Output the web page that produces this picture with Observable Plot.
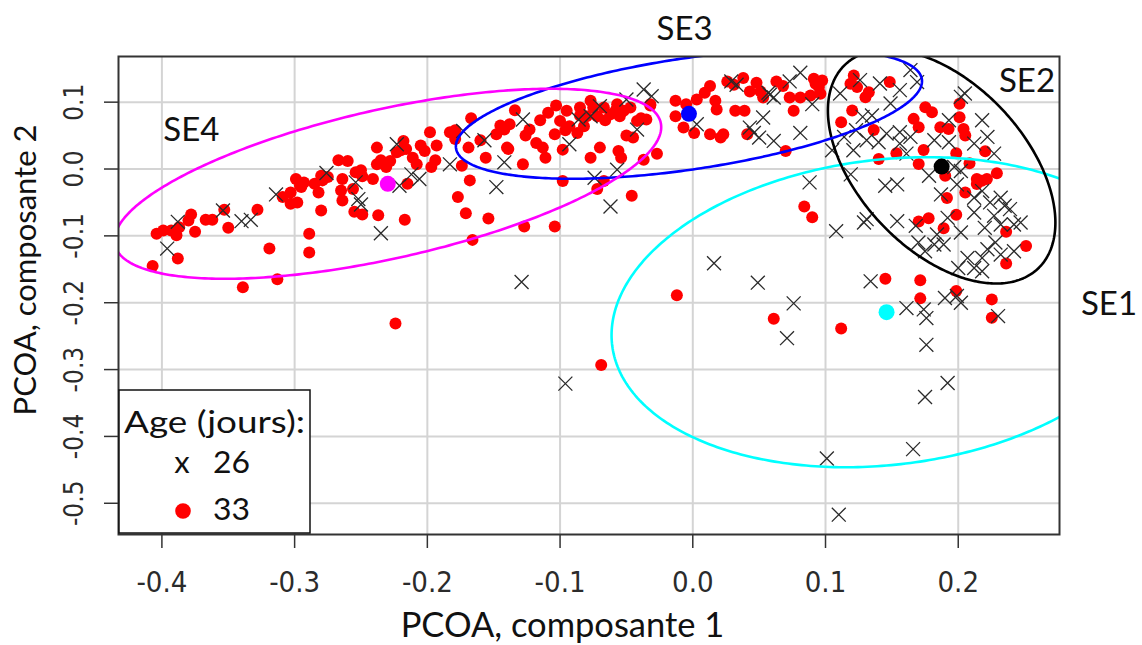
<!DOCTYPE html>
<html><head><meta charset="utf-8">
<script src="https://cdn.jsdelivr.net/npm/d3@7"></script>
<script src="https://cdn.jsdelivr.net/npm/@observablehq/plot@0.6"></script>
<style>
html,body{margin:0;padding:0;background:#fff;}
#chart{width:1142px;height:645px;}
</style></head><body><div id="chart"></div>
<script>
// Age 26 days (x marks)
const age26 = [
[-0.396,-0.119],[-0.388,-0.079],[-0.354,-0.062],[-0.340,-0.078],[-0.333,-0.076],[-0.314,-0.038],[-0.276,-0.006],[-0.254,-0.020],[-0.252,-0.045],[-0.250,-0.053],[-0.223,0.037],[-0.235,-0.096],[-0.221,-0.025],[-0.212,-0.008],[-0.206,-0.015],[-0.183,0.007],[-0.173,0.057],[-0.148,-0.027],[-0.157,0.043],[-0.142,0.010],
[-0.129,-0.169],[-0.096,-0.321],
[-0.128,0.074],[-0.093,0.037],[-0.086,0.074],[-0.077,0.079],[-0.070,0.094],[-0.050,0.104],[-0.042,0.059],[-0.037,0.119],[-0.031,0.109],[-0.057,-0.001],[-0.074,-0.013],[0.003,0.067],[0.029,0.131],[0.033,0.126],[0.043,0.062],[0.046,0.054],[0.050,0.047],[0.053,0.077],[0.058,0.111],[0.061,0.107],[0.061,0.042],[0.073,0.131],[0.081,0.144],[0.081,0.054],[0.090,0.097],[0.088,-0.020],[0.057,0.114],
[-0.062,-0.056],[0.016,-0.141],[0.049,-0.170],[0.076,-0.201],[0.071,-0.253],
[0.192,-0.320],[0.175,-0.341],[0.166,-0.419],[0.101,-0.433],[0.110,-0.517],
[0.111,0.113],[0.126,0.133],[0.141,0.128],[0.149,0.098],[0.156,0.118],[0.164,0.148],[0.169,0.130],[0.128,0.078],[0.135,0.080],[0.123,0.058],[0.131,0.043],[0.140,0.040],[0.114,0.048],[0.105,0.028],[0.121,0.028],[0.146,0.053],[0.156,0.055],[0.156,0.038],[0.164,0.048],[0.161,0.023],[0.182,0.043],[0.193,0.073],[0.193,0.040],[0.202,0.108],[0.205,0.113],[0.218,0.073],[0.222,0.048],[0.212,0.038],[0.227,0.023],
[0.119,-0.008],[0.145,-0.025],[0.154,-0.023],[0.178,-0.010],[0.187,-0.038],[0.197,0.003],[0.202,-0.003],[0.199,-0.023],[0.212,-0.043],[0.218,-0.033],[0.224,-0.050],[0.232,-0.043],[0.235,-0.055],[0.239,-0.060],
[0.108,-0.093],[0.129,-0.080],[0.131,-0.075],[0.154,-0.078],[0.168,-0.085],[0.184,-0.098],[0.192,-0.073],[0.202,-0.095],[0.212,-0.065],[0.220,-0.088],[0.227,-0.070],[0.232,-0.083],[0.242,-0.083],[0.247,-0.080],
[0.170,-0.110],[0.175,-0.123],[0.182,-0.113],[0.189,-0.113],[0.207,-0.133],[0.218,-0.133],[0.222,-0.120],[0.228,-0.110],[0.232,-0.128],[0.242,-0.123],[0.200,-0.148],[0.212,-0.148],[0.218,-0.153],
[0.134,-0.168],[0.161,-0.208],[0.176,-0.223],[0.174,-0.210],[0.190,-0.193],[0.202,-0.200],[0.199,-0.190],[0.230,-0.220],[0.176,-0.263]
];
// Age 33 days (red dots)
const age33 = [
[-0.404,-0.097],[-0.399,-0.092],[-0.393,-0.092],[-0.387,-0.087],[-0.380,-0.077],[-0.378,-0.068],[-0.389,-0.099],[-0.407,-0.145],[-0.388,-0.134],[-0.375,-0.094],[-0.367,-0.076],[-0.362,-0.076],[-0.353,-0.061],[-0.350,-0.088],[-0.328,-0.061],[-0.319,-0.119],[-0.339,-0.177],[-0.313,-0.165],[-0.289,-0.097],[-0.289,-0.125],
[-0.309,-0.042],[-0.303,-0.035],[-0.299,-0.015],[-0.295,-0.027],[-0.293,-0.020],[-0.298,-0.050],[-0.303,-0.052],[-0.285,-0.022],[-0.282,-0.035],[-0.279,-0.017],[-0.275,-0.012],[-0.267,0.013],[-0.260,0.012],[-0.264,-0.015],[-0.254,-0.005],[-0.249,-0.011],[-0.256,-0.030],[-0.264,-0.047],[-0.255,-0.064],[-0.249,-0.068],[-0.280,-0.062],
[-0.296,-0.025],[-0.280,-0.010],[-0.265,-0.032],[-0.250,-0.002],[-0.235,0.013],[-0.220,0.028],[-0.205,0.035],[-0.194,0.013],
[-0.238,0.032],[-0.238,0.007],[-0.241,-0.015],[-0.237,-0.069],[-0.231,0.003],[-0.228,0.012],[-0.223,0.025],[-0.218,0.042],[-0.216,0.030],[-0.211,0.017],[-0.217,-0.076],[-0.215,-0.022],[-0.208,0.007],[-0.202,0.027],[-0.198,0.055],[-0.197,0.003],[-0.193,0.035],[-0.183,0.055],[-0.179,0.045],[-0.174,0.005],[-0.169,0.032],[-0.168,-0.017],[-0.177,-0.042],[-0.171,-0.066],[-0.166,-0.106],[-0.154,-0.074],[-0.156,0.017],[-0.148,0.052],[-0.142,0.059],[-0.139,0.030],
[-0.224,-0.231],[-0.069,-0.293],
[-0.179,0.058],[-0.167,0.076],[-0.160,0.043],[-0.145,0.065],[-0.134,0.088],[-0.126,0.050],[-0.115,0.073],[-0.103,0.095],[-0.096,0.058],[-0.085,0.080],[-0.077,0.102],[-0.066,0.073],[-0.058,0.088],[-0.050,0.050],[-0.039,0.076],[-0.032,0.095],
[-0.138,0.067],[-0.140,0.032],[-0.128,0.007],[-0.123,0.059],[-0.118,0.039],[-0.113,0.032],[-0.111,0.017],[-0.109,0.084],[-0.104,0.052],[-0.100,0.072],[-0.098,0.029],[-0.095,0.087],[-0.093,0.064],[-0.087,0.054],[-0.085,0.092],[-0.082,0.064],[-0.080,0.079],[-0.077,0.017],[-0.075,0.092],[-0.072,0.079],[-0.070,0.032],[-0.067,0.092],[-0.062,0.082],[-0.057,0.097],[-0.055,0.079],[-0.052,0.087],[-0.047,0.092],[-0.042,0.072],[-0.035,0.074],[-0.032,0.097],[-0.045,0.047],[-0.056,0.027],[-0.054,0.017],[-0.067,-0.018],[-0.072,-0.030],[-0.098,-0.018],[-0.046,-0.040],[-0.037,0.014],[-0.027,0.023],
[-0.013,0.102],[-0.013,0.079],[-0.007,0.062],[0.001,0.054],[-0.005,0.097],[0.003,0.104],[0.009,0.114],[0.013,0.124],[0.017,0.102],[0.018,0.089],[0.013,0.052],[0.021,0.047],[0.023,0.052],[0.026,0.131],[0.031,0.126],[0.032,0.087],[0.039,0.087],[0.041,0.052],[0.038,0.136],[0.043,0.116],[0.048,0.129],[0.051,0.116],[0.053,0.107],[0.063,0.131],[0.068,0.124],[0.070,0.027],[0.073,0.107],[0.076,0.087],[0.081,0.107],
[-0.127,-0.086],[-0.104,-0.086],[-0.012,-0.189],[0.061,-0.224],[0.084,-0.056],[0.090,-0.072],
[0.0925,0.1275],[0.0912,0.135],[0.0950,0.1225],[0.0975,0.1325],[0.0887,0.110],[0.0962,0.1125],[0.1213,0.14],[0.1188,0.1275],[0.1238,0.1225],[0.1326,0.115],[0.1301,0.1075],[0.1484,0.13],[0.1201,0.0875],[0.1118,0.07],[0.1363,0.0585],[0.1401,0.015],[0.1534,0.0235],[0.1664,0.075],[0.1702,0.0625],[0.1752,0.0925],[0.1802,0.085],[0.1865,0.0625],[0.1927,0.06],[0.2010,0.0975],[0.2010,0.0775],[0.2040,0.06],[0.2053,0.05],[0.1739,0.0285],[0.1702,0.0075],[0.1902,-0.01],[0.1985,0.0235],[0.2085,0.0085],[0.2203,0.0265],[0.2291,-0.0065],[0.2140,-0.015],[0.2178,-0.0175],[0.2216,-0.015],[0.2140,-0.0225],[0.2053,-0.035],[0.1915,-0.0435],[0.1985,-0.0685],[0.1702,-0.0785],[0.1777,-0.0735],[0.1890,-0.0885],[0.2361,-0.094],[0.2511,-0.115],[0.2361,-0.1415],[0.1451,-0.164],[0.1714,-0.1665],[0.1714,-0.1935],[0.1985,-0.1825],[0.2253,-0.195],[0.2253,-0.2225],[0.1118,-0.2385]
];
// Groups (SE) with centroids and dispersion ellipses
const groups = ["SE1","SE2","SE3","SE4"];
const groupColors = ["#00ffff","#000000","#0000ff","#ff00ff"];
const centroidX = [0.1460, 0.1875, -0.0029, -0.2298];
const centroidY = [-0.2142, 0.0037, 0.0826, -0.0221];
const ellipseRx = [0.2072, 0.0857, 0.1756, 0.2060];
const ellipseRy = [0.2319, 0.1750, 0.0972, 0.1421];
const ellipseCor = [0.148, -0.479, 0.502, 0.596];
const labelX = [0.3136, 0.2518, -0.0062, -0.3778];
const labelY = [-0.2177, 0.1149, 0.1933, 0.0416];
const xTicks = [-0.4,-0.3,-0.2,-0.1,0.0,0.1,0.2];
const yTicks = [-0.5,-0.4,-0.3,-0.2,-0.1,0.0,0.1];
const xTitle = "PCOA, composante 1";
const yTitle = "PCOA, composante 2";
const legendTitle = "Age (jours):";
const legendAges = ["26","33"];

const ellipsePts = [];
groups.forEach((g, i) => {
  const s = Math.sqrt(1 - ellipseCor[i] ** 2);
  for (let k = 0; k <= 360; k++) {
    const t = 2 * Math.PI * k / 360;
    ellipsePts.push({g, x: centroidX[i] + ellipseRx[i] * Math.cos(t),
      y: centroidY[i] + ellipseRy[i] * (ellipseCor[i] * Math.cos(t) + s * Math.sin(t))});
  }
});

const tickFont = "'Liberation Sans Narrow', 'DejaVu Sans Condensed', 'Liberation Sans', sans-serif";
const labelFont = "Lato, 'Open Sans', sans-serif";

const chart = Plot.plot({
  width: 1142, height: 645,
  marginLeft: 118, marginRight: 83, marginTop: 56, marginBottom: 111,
  x: {domain: [-0.4327, 0.2763]},
  y: {domain: [-0.5467, 0.1683]},
  color: {domain: groups, range: groupColors},
  style: {background: "white"},
  marks: [
    Plot.gridX(xTicks, {stroke: "#d4d4d4", strokeOpacity: 1, strokeWidth: 2}),
    Plot.gridY(yTicks, {stroke: "#d4d4d4", strokeOpacity: 1, strokeWidth: 2}),
    Plot.axisX({ticks: xTicks, tickSize: 14, tickPadding: 23, tickFormat: d => d.toFixed(1), fontSize: 29, fontFamily: tickFont, label: null, stroke: "#333", strokeWidth: 1.5, fill: "#2b2b2b"}),
    Plot.axisY({ticks: yTicks, tickSize: 14, tickFormat: () => "", label: null, stroke: "#333", strokeWidth: 1.5}),
    Plot.text(yTicks, {y: d => d, text: d => d.toFixed(1), frameAnchor: "left", rotate: -90, dx: -36, lineAnchor: "bottom", textAnchor: "middle", fontSize: 26, fontFamily: tickFont, fill: "#2b2b2b"}),
    Plot.dot(age33, {x: d => d[0], y: d => d[1], r: 6, fill: "#ff0000", clip: true}),
    Plot.dot(age26, {x: d => d[0], y: d => d[1], r: 6.4, symbol: "times", stroke: "#2a2a2a", strokeWidth: 1.3, clip: true}),
    Plot.line(ellipsePts, {x: "x", y: "y", z: "g", stroke: "g", strokeWidth: 2.6, clip: true}),
    Plot.dot(groups, {x: (d, i) => centroidX[i], y: (d, i) => centroidY[i], fill: d => d, r: 8}),
    Plot.text(groups, {x: (d, i) => labelX[i], y: (d, i) => labelY[i], text: d => d, lineAnchor: "bottom", fontSize: 33, fontFamily: labelFont, fill: "#111"}),
    Plot.frame({stroke: "#333", strokeWidth: 2})
  ]
});

const svg = d3.select(chart);
// axis titles
svg.append("text").attr("x", 562.5).attr("y", 637).attr("text-anchor", "middle")
  .attr("font-family", labelFont).attr("font-size", 34.5).attr("fill", "#111").text(xTitle);
svg.append("text").attr("transform", "translate(36,270) rotate(-90)").attr("text-anchor", "middle")
  .attr("font-family", labelFont).attr("font-size", 31).attr("fill", "#111").text(yTitle);

// legend
const lg = svg.append("g").attr("font-family", labelFont).attr("fill", "#111");
lg.append("rect").attr("x", 119).attr("y", 390).attr("width", 191).attr("height", 143)
  .attr("fill", "white").attr("stroke", "#111").attr("stroke-width", 1.5);
lg.append("text").attr("x", 124).attr("y", 433).attr("text-anchor", "start").attr("font-size", 31)
  .attr("textLength", 181).attr("lengthAdjust", "spacingAndGlyphs").text(legendTitle);
lg.append("text").attr("x", 182).attr("y", 473).attr("text-anchor", "middle").attr("font-size", 31).text("x");
lg.append("text").attr("x", 213).attr("y", 473).attr("text-anchor", "start").attr("font-size", 31)
  .attr("textLength", 37).attr("lengthAdjust", "spacingAndGlyphs").text(legendAges[0]);
lg.append("circle").attr("cx", 183).attr("cy", 511).attr("r", 7.8).attr("fill", "#ff0000");
lg.append("text").attr("x", 213).attr("y", 520).attr("text-anchor", "start").attr("font-size", 31)
  .attr("textLength", 37).attr("lengthAdjust", "spacingAndGlyphs").text(legendAges[1]);

document.getElementById("chart").appendChild(chart);
</script></body></html>
